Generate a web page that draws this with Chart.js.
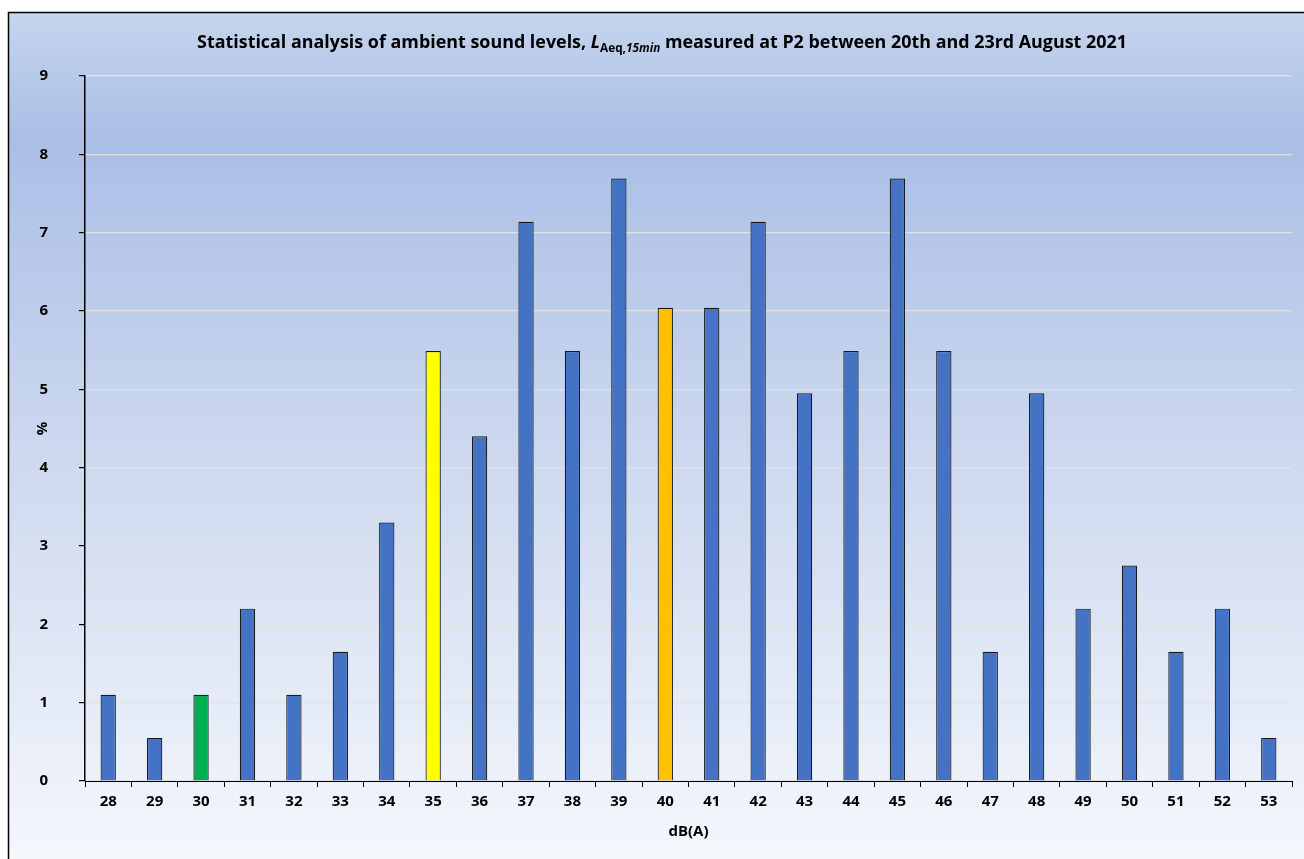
<!DOCTYPE html>
<html>
<head>
<meta charset="utf-8">
<script src="https://cdn.jsdelivr.net/npm/chart.js@4.4.0/dist/chart.umd.min.js"></script>
<style>
  html, body { margin: 0; padding: 0; background: #ffffff; }
  #wrap { width: 1304px; height: 859px; }
</style>
</head>
<body>
<div id="wrap"><canvas id="chart" width="1304" height="859"></canvas></div>
<script>
const levels = ['28','29','30','31','32','33','34','35','36','37','38','39','40','41','42','43','44','45','46','47','48','49','50','51','52','53']
const percents = [1.10, 0.55, 1.10, 2.20, 1.10, 1.65, 3.30, 5.49, 4.40, 7.14, 5.49, 7.69, 6.04, 6.04, 7.14, 4.95, 5.49, 7.69, 5.49, 1.65, 4.95, 2.20, 2.75, 1.65, 2.20, 0.55]
const barColors = ['#4472c4','#4472c4','#00b050','#4472c4','#4472c4','#4472c4','#4472c4','#ffff00','#4472c4','#4472c4','#4472c4','#4472c4','#ffc000','#4472c4','#4472c4','#4472c4','#4472c4','#4472c4','#4472c4','#4472c4','#4472c4','#4472c4','#4472c4','#4472c4','#4472c4','#4472c4']
const yTicks = [0, 1, 2, 3, 4, 5, 6, 7, 8, 9]

const FONT = "'Open Sans', 'Liberation Sans', sans-serif"

// background gradient, frame and the rich-text title
const frame = {
    id: 'frame',
    beforeDraw(chart) {
        const ctx = chart.ctx
        ctx.save()
        const g = ctx.createLinearGradient(0, 12, 0, 859)
        g.addColorStop(0, '#c6d5ed')
        g.addColorStop(0.15, '#aabee6')
        g.addColorStop(0.5, '#cbd7ee')
        g.addColorStop(1, '#f4f7fc')
        ctx.fillStyle = g
        ctx.fillRect(8, 12, 1304, 859)
        ctx.strokeStyle = '#000000'
        ctx.lineWidth = 1.5
        ctx.strokeRect(8.5, 12.5, 1310, 860)
        ctx.restore()
    },
    afterDraw(chart) {
        const ctx = chart.ctx
        ctx.save()
        ctx.fillStyle = '#000000'
        ctx.textBaseline = 'alphabetic'
        const parts = [
            { t: 'Statistical analysis of ambient sound levels, ', f: 'bold 17.9px ' + FONT, dy: 0 },
            { t: 'L', f: 'italic bold 17.9px ' + FONT, dy: 0 },
            { t: 'Aeq,', f: 'bold 11.8px ' + FONT, dy: 4 },
            { t: '15min', f: 'italic bold 11.8px ' + FONT, dy: 4 },
            { t: ' measured at P2 between 20th and 23rd August 2021', f: 'bold 17.9px ' + FONT, dy: 0 }
        ]
        let total = 0
        for (const p of parts) { ctx.font = p.f; total += ctx.measureText(p.t).width }
        let x = 662 - total / 2
        const y = 48
        for (const p of parts) {
            ctx.font = p.f
            ctx.fillText(p.t, x, y + p.dy)
            x += ctx.measureText(p.t).width
        }
        ctx.restore()
    }
}

new Chart(document.getElementById('chart'), {
    type: 'bar',
    data: {
        labels: levels,
        datasets: [{
            data: percents,
            backgroundColor: barColors,
            borderColor: '#1a1a1a',
            borderWidth: 1.2,
            barPercentage: 0.33,
            categoryPercentage: 1.0
        }]
    },
    options: {
        responsive: false,
        animation: false,
        layout: { padding: { left: 0, top: 76, right: 12, bottom: 0 } },
        plugins: {
            legend: { display: false },
            tooltip: { enabled: false }
        },
        scales: {
            x: {
                offset: true,
                afterFit(axis) { axis.height = 78 },
                grid: {
                    offset: true,
                    drawOnChartArea: false,
                    drawTicks: true,
                    tickLength: 6,
                    color: '#000000'
                },
                border: { color: '#000000', width: 1 },
                ticks: { color: '#000000', font: { family: FONT, size: 15, weight: 'bold' }, padding: 6, maxRotation: 0 },
                title: { display: true, text: 'dB(A)', color: '#000000', font: { family: FONT, size: 15, weight: 'bold' }, padding: { top: 5, bottom: 18 } }
            },
            y: {
                min: 0,
                max: 9,
                afterBuildTicks(axis) { axis.ticks = yTicks.map(v => ({ value: v })) },
                afterFit(axis) { axis.width = 85 },
                grid: {
                    color: '#e2e2e2',
                    lineWidth: 1.2,
                    drawTicks: true,
                    tickLength: 6,
                    tickColor: '#000000'
                },
                border: { color: '#000000', width: 1.5 },
                ticks: { color: '#000000', font: { family: FONT, size: 15, weight: 'bold' }, padding: 31 },
                title: { display: true, text: '%', color: '#000000', font: { family: FONT, size: 15, weight: 'bold' }, padding: { top: 34, bottom: 0 } }
            }
        }
    },
    plugins: [frame]
})
</script>
</body>
</html>
